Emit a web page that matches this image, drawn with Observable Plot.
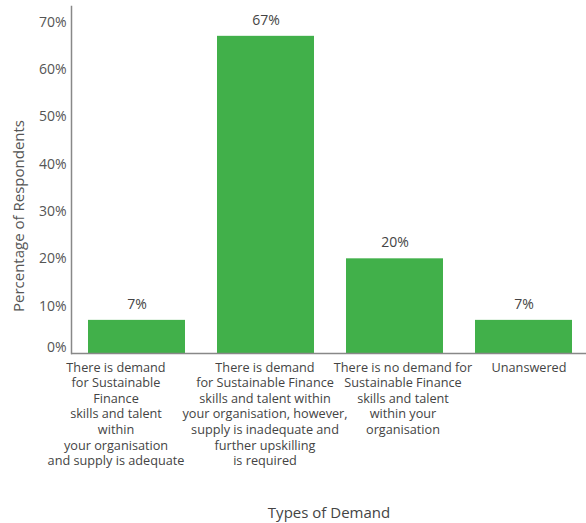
<!DOCTYPE html>
<html>
<head>
<meta charset="utf-8">
<script src="https://cdn.jsdelivr.net/npm/d3@7"></script>
<script src="https://cdn.jsdelivr.net/npm/@observablehq/plot@0.6"></script>
<style>
  html, body { margin: 0; padding: 0; background: #fff; }
  svg { font-family: "Open Sans", sans-serif; }
</style>
</head>
<body>
<div id="chart"></div>
<script>
const categories = [
  "There is demand\nfor Sustainable\nFinance\nskills and talent\nwithin\nyour organisation\nand supply is adequate",
  "There is demand\nfor Sustainable Finance\nskills and talent within\nyour organisation, however,\nsupply is inadequate and\nfurther upskilling\nis required",
  "There is no demand for\nSustainable Finance\nskills and talent\nwithin your\norganisation",
  "Unanswered"
];
const values = [7, 67, 20, 7];
const yTicks = [0, 10, 20, 30, 40, 50, 60, 70];
const xTitle = "Types of Demand";
const yTitle = "Percentage of Respondents";

const data = categories.map((c, i) => ({category: c, value: values[i]}));

// horizontal nudges of the category labels, as in the reference
const labelShift = [-21, -1, 8, 5];

const chart = Plot.plot({
  width: 586,
  height: 523,
  marginLeft: 71,
  marginRight: 0,
  marginTop: 6,
  marginBottom: 170,
  style: {fontFamily: "Open Sans", fontSize: "14px", color: "#555"},
  x: {domain: categories, paddingInner: 0.2444, paddingOuter: 0.108, align: 0.573, axis: null},
  y: {domain: [0, 73.3], axis: null},
  marks: [
    Plot.barY(data, {x: "category", y: "value", fill: "#41b04a"}),
    Plot.ruleY([0], {stroke: "#888", strokeWidth: 1.5}),
    Plot.frame({anchor: "left", stroke: "#888", strokeWidth: 1.5}),
    Plot.axisY(yTicks.filter(d => d > 0), {tickSize: 0, tickPadding: 5, tickFormat: d => d + "%", fontSize: 14, fill: "#555", label: null}),
    Plot.axisY([0], {tickSize: 0, tickPadding: 5, tickFormat: d => d + "%", fontSize: 14, fill: "#555", dy: -6, label: null}),
    Plot.text(data, {x: "category", y: "value", text: d => d.value + "%", dy: -16, fontSize: 14, fill: "#444"}),
    ...categories.map((c, i) => Plot.axisX([c], {tickSize: 0, tickPadding: 7, fontSize: 12.7, fill: "#444", lineHeight: 1.23, textAnchor: "middle", dx: labelShift[i], label: null})),
    Plot.text([xTitle], {frameAnchor: "bottom", dy: 160, fontSize: 15, fill: "#444", lineAnchor: "middle", textAnchor: "middle"}),
    Plot.text([yTitle], {frameAnchor: "left", textAnchor: "middle", lineAnchor: "middle", dx: -52, dy: 36, rotate: -90, fontSize: 15, fill: "#555"})
  ]
});
document.getElementById("chart").appendChild(chart);
</script>
</body>
</html>
